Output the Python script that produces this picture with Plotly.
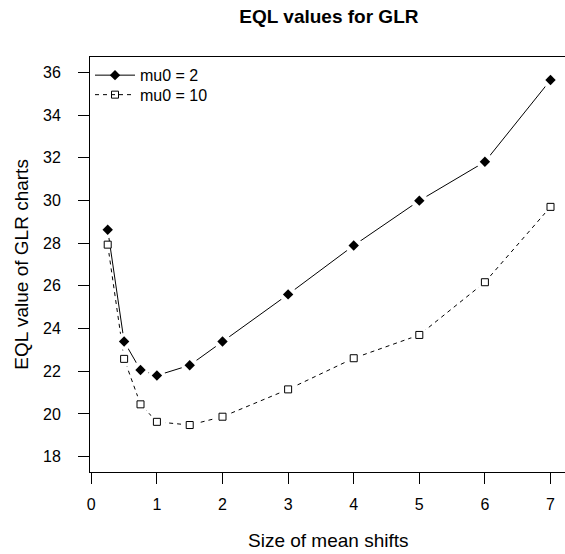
import plotly.graph_objects as go

shift = [0.25, 0.5, 0.75, 1, 1.5, 2, 3, 4, 5, 6, 7]
eql_mu2 = [28.63, 23.39, 22.06, 21.80, 22.28, 23.39, 25.60, 27.89, 29.99, 31.81, 35.64]
eql_mu10 = [27.93, 22.58, 20.45, 19.63, 19.48, 19.87, 21.15, 22.61, 23.70, 26.17, 29.70]
names = ["mu0 = 2", "mu0 = 10"]

FONT = "Liberation Sans, Arial, sans-serif"

fig = go.Figure()
# dashed series line
fig.add_trace(go.Scatter(x=shift, y=eql_mu10, mode="lines+markers", name=names[1], legend="legend2",
                         line=dict(color="black", width=1, dash="4px,4px"),
                         marker=dict(symbol="square-open", size=7, color="black",
                                     line=dict(width=1, color="black"))))
# white gaps around points (R type="b")
fig.add_trace(go.Scatter(x=shift, y=eql_mu10, mode="markers", showlegend=False, hoverinfo="skip",
                         marker=dict(symbol="circle", size=17, color="white", line=dict(width=0))))
fig.add_trace(go.Scatter(x=shift, y=eql_mu2, mode="lines+markers", name=names[0], legend="legend",
                         line=dict(color="black", width=1),
                         marker=dict(symbol="diamond", size=8, color="black", line=dict(width=0))))
fig.add_trace(go.Scatter(x=shift, y=eql_mu2, mode="markers", showlegend=False, hoverinfo="skip",
                         marker=dict(symbol="circle", size=17, color="white", line=dict(width=0))))
# markers on top
fig.add_trace(go.Scatter(x=shift, y=eql_mu10, mode="markers", showlegend=False, hoverinfo="skip",
                         marker=dict(symbol="square", size=7, color="white",
                                     line=dict(width=1, color="black"))))
fig.add_trace(go.Scatter(x=shift, y=eql_mu2, mode="markers", showlegend=False, hoverinfo="skip",
                         marker=dict(symbol="diamond", size=8, color="black", line=dict(width=0))))

leg_common = dict(x=0.0, xanchor="left", yanchor="top", bgcolor="rgba(0,0,0,0)",
                  borderwidth=0, font=dict(size=16, family=FONT), itemwidth=40)

fig.update_layout(
    width=565, height=554,
    margin=dict(l=90, r=0, t=57, b=82, pad=0),
    paper_bgcolor="white", plot_bgcolor="white",
    font=dict(family=FONT, size=16, color="black"),
    showlegend=True,
    legend=dict(y=0.997, **leg_common),
    legend2=dict(y=0.950, **leg_common),
    title=dict(text="<b>EQL values for GLR</b>", x=0.503, xref="paper", xanchor="center",
               y=1 - 16 / 554, yref="container", yanchor="middle",
               font=dict(size=19, family=FONT)),
    annotations=[
        dict(text="Size of mean shifts", xref="paper", yref="paper", x=0.503, y=-0.166,
             xanchor="center", yanchor="middle", showarrow=False, font=dict(size=19)),
        dict(text="EQL value of GLR charts", xref="paper", yref="paper", x=-0.145, y=0.5,
             xanchor="center", yanchor="middle", textangle=-90, showarrow=False,
             font=dict(size=19)),
    ],
)
fig.update_xaxes(range=[-0.02, 7.221], tickvals=[0, 1, 2, 3, 4, 5, 6, 7],
                 showgrid=False, zeroline=False, showline=True, linecolor="black", linewidth=1,
                 mirror=True, ticks="outside", ticklen=11, tickcolor="black", tickwidth=1,
                 ticklabelstandoff=7)
fig.update_yaxes(range=[17.28, 36.72], tickvals=[18, 20, 22, 24, 26, 28, 30, 32, 34, 36],
                 showgrid=False, zeroline=False, showline=True, linecolor="black", linewidth=1,
                 mirror=False, ticks="outside", ticklen=11, tickcolor="black", tickwidth=1,
                 ticklabelstandoff=14)

fig.write_html("out.html")
